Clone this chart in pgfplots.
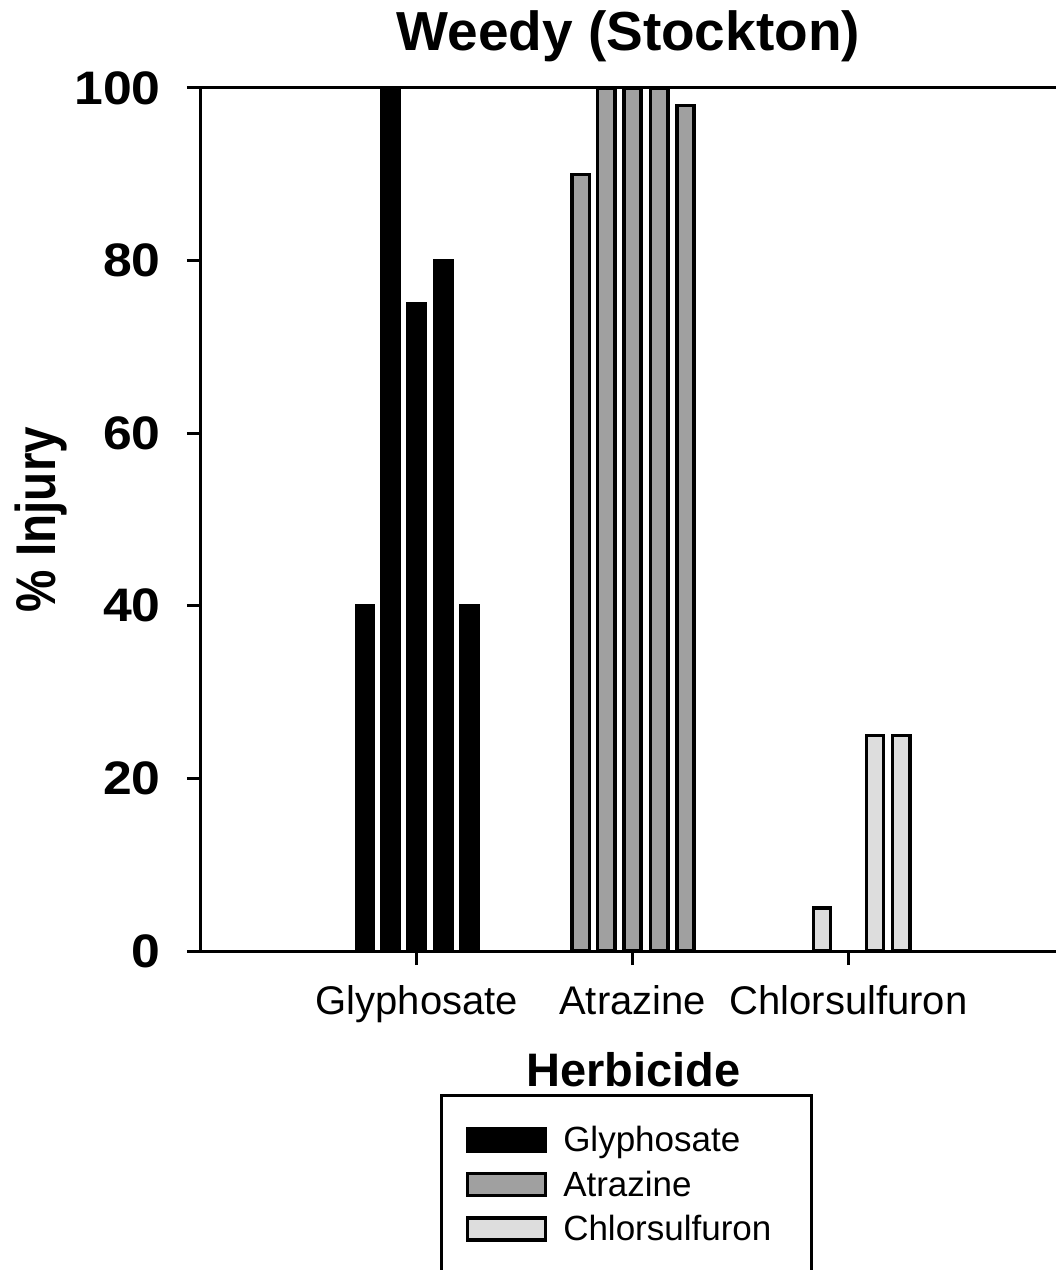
\documentclass[border=0pt]{standalone}
\usepackage{fontspec}
\setmainfont{Liberation Sans}
\usepackage{graphicx}
\usepackage{pgfplots}
\pgfplotsset{compat=1.18}
\definecolor{atra}{HTML}{A0A0A0}
\definecolor{chlor}{HTML}{DDDDDD}
\newcommand{\yt}[1]{\scalebox{1.1}[1]{#1}}
\begin{document}
\begin{tikzpicture}
\begin{axis}[
  name=ax, at={(0,0)}, anchor=south west,
  scale only axis, width=427.3pt, height=431.5pt,
  xmin=0, xmax=3.96, ymin=0, ymax=100,
  ybar, bar width=0.08,
  axis x line*=box, axis y line*=left,
  axis line style={-, line width=1.5pt, black},
  xtick={1,2,3}, xticklabels={Glyphosate,Atrazine,Chlorsulfuron},
  ytick={0,20,40,60,80,100}, yticklabels={\yt{0},\yt{20},\yt{40},\yt{60},\yt{80},\yt{100}},
  xtick pos=left, ytick pos=left,
  tick align=outside, major tick length=7pt,
  tick style={line width=1.5pt, black},
  xticklabel style={font=\fontsize{20}{24}\selectfont, anchor=base, inner sep=0pt, yshift=-24.5pt},
  yticklabel style={font=\bfseries\fontsize{23.5}{28}\selectfont, anchor=east, inner sep=0pt, xshift=-13pt},
  title={Weedy (Stockton)},
  title style={at={(axis description cs:0.5,1.0301)}, anchor=base, inner sep=0pt, font=\bfseries\fontsize{27.5}{33}\selectfont},
  xlabel={Herbicide},
  xlabel style={at={(axis description cs:0.5059,-0.1572)}, anchor=base, inner sep=0pt, font=\bfseries\fontsize{23.5}{28}\selectfont},
  ylabel={\scalebox{0.85}[1]{\% Injury}},
  ylabel style={at={(axis description cs:-0.1708,0.5)}, anchor=base, inner sep=0pt, font=\bfseries\fontsize{28}{33}\selectfont},
  legend image code/.code={\draw[#1, line width=1.75pt] (0pt,0.45pt) rectangle (39pt,11.25pt);},
  legend style={at={(axis description cs:0.3098,-0.2024)}, anchor=north west, draw=none, fill=none,
    inner sep=0pt, outer sep=0pt, row sep=5.25pt, column sep=8pt,
    font=\fontsize{17.5}{21}\selectfont,
    nodes={inner sep=0pt, text height=13pt, text depth=4pt},
    cells={anchor=base west}},
]
\addplot[fill=black, draw=black, line width=1.75pt, bar shift=0pt]
  coordinates {(0.760,40) (0.878,100) (1.000,75) (1.123,80) (1.245,40)};
\addplot[fill=atra, draw=black, line width=1.75pt, bar shift=0pt]
  coordinates {(1.760,90) (1.878,100) (2.000,100) (2.123,100) (2.245,98)};
\addplot[fill=chlor, draw=black, line width=1.75pt, bar shift=0pt]
  coordinates {(2.878,5) (3.123,25) (3.245,25)};
\legend{Glyphosate,Atrazine,Chlorsulfuron}
\end{axis}
\draw[line width=1.5pt] ([shift={(120.25pt,-72.25pt)}]ax.south west) rectangle ([shift={(305.25pt,-175pt)}]ax.south west);
\pgfresetboundingbox
\path ([shift={(-100.5pt,-159.5pt)}]ax.south west) rectangle ([shift={(427.5pt,475.5pt)}]ax.south west);
\end{tikzpicture}
\end{document}
